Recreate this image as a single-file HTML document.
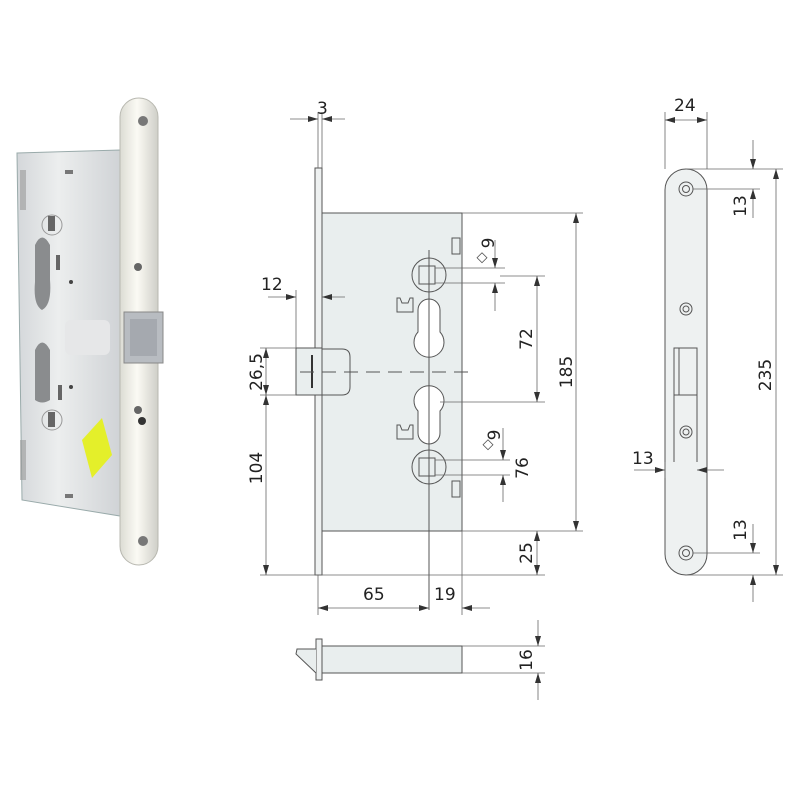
<!DOCTYPE html>
<html><head><meta charset="utf-8"><style>
html,body{margin:0;padding:0;background:#fff;width:800px;height:800px;overflow:hidden}
svg{display:block}
text{font-family:"DejaVu Sans","Liberation Sans",sans-serif;fill:#222;font-size:17px}
</style></head><body>
<svg width="800" height="800" viewBox="0 0 800 800" xmlns="http://www.w3.org/2000/svg">
<defs>
<marker id="a" viewBox="0 0 10 6" refX="10" refY="3" markerWidth="10" markerHeight="6" orient="auto-start-reverse" markerUnits="userSpaceOnUse"><path d="M0,0 L10,3 L0,6z" fill="#333"/></marker>
<linearGradient id="pg" x1="0" x2="1"><stop offset="0" stop-color="#d4d7da"/><stop offset=".4" stop-color="#eceeee"/><stop offset="1" stop-color="#d0d3d6"/></linearGradient>
<linearGradient id="fg" x1="0" x2="1"><stop offset="0" stop-color="#dcdcd4"/><stop offset=".45" stop-color="#fbfaf4"/><stop offset="1" stop-color="#cfcfc8"/></linearGradient>
</defs>

<!-- PHOTO -->
<g>
<path d="M17,153 L120,150 L120,516 L22,500 Z" fill="url(#pg)" stroke="#9aa"/>
<rect x="120" y="98" width="38" height="467" rx="19" fill="url(#fg)" stroke="#b8b8b0"/>
<circle cx="143" cy="121" r="5" fill="#777"/><circle cx="143" cy="541" r="5" fill="#777"/>
<circle cx="138" cy="267" r="4" fill="#666"/><circle cx="138" cy="410" r="4" fill="#666"/><circle cx="142" cy="421" r="4" fill="#333"/>
<circle cx="52" cy="225" r="10" fill="none" stroke="#999"/><rect x="48" y="216" width="7" height="15" fill="#666"/>
<circle cx="52" cy="420" r="10" fill="none" stroke="#999"/><rect x="48" y="412" width="7" height="15" fill="#666"/>
<path d="M35,245 Q42,230 50,245 L50,280 Q52,305 42,310 Q33,305 35,282 Z" fill="#8a8c8e"/>
<path d="M35,350 Q42,335 50,350 L50,400 Q42,405 35,400 Z" fill="#8a8c8e"/>
<rect x="56" y="255" width="4" height="15" fill="#666"/><rect x="58" y="385" width="4" height="15" fill="#666"/>
<circle cx="71" cy="282" r="2" fill="#444"/><circle cx="71" cy="387" r="2" fill="#444"/>
<rect x="65" y="320" width="45" height="35" rx="6" fill="#e6e7e8"/>
<rect x="20" y="170" width="6" height="40" fill="#999" opacity=".6"/><rect x="20" y="440" width="6" height="40" fill="#999" opacity=".6"/>
<rect x="65" y="170" width="8" height="4" fill="#777"/><rect x="65" y="494" width="8" height="4" fill="#777"/>
<rect x="124" y="312" width="39" height="51" fill="#b8bcc1" stroke="#888"/>
<rect x="130" y="319" width="27" height="37" fill="#a5a9af"/>
<path d="M82,440 L102,418 L112,455 L92,478 Z" fill="#e4ef2a"/>
</g>

<!-- MIDDLE DRAWING -->
<g stroke="#555" stroke-width="1" fill="none">
<rect x="322" y="213" width="140" height="318" fill="#e9eeee"/>
<rect x="315" y="168" width="7" height="407" fill="#eef1f1"/>
<rect x="296" y="348" width="26" height="47" fill="#e9eeee"/>
<path d="M322,349 L342,349 Q350,349 350,357 L350,387 Q350,395 342,395 L322,395"/>
<line x1="312" y1="355" x2="312" y2="388" stroke-width="2" stroke="#333"/>
<line x1="300" y1="372" x2="470" y2="372" stroke-dasharray="14,8"/>
<circle cx="429" cy="275" r="17"/><rect x="419" y="266" width="16" height="18"/>
<circle cx="429" cy="467" r="17"/><rect x="419" y="458" width="16" height="18"/>
<path d="M418,310 A11,11 0 0 1 440,310 L440,332 A15,15 0 1 1 418,332 Z" fill="#fff"/>
<path d="M418,433 A11,11 0 0 0 440,433 L440,411 A15,15 0 1 0 418,411 Z" fill="#fff"/>
<line x1="429" y1="250" x2="429" y2="610"/>
<path d="M397,298 h3 l2,5 h6 l2,-5 h3 v14 h-16z"/>
<path d="M397,425 h3 l2,5 h6 l2,-5 h3 v14 h-16z"/>
<rect x="452" y="238" width="8" height="16"/><rect x="452" y="481" width="8" height="16"/>
<g stroke="#666" stroke-width=".8">
<line x1="318" y1="112" x2="318" y2="168"/><line x1="322" y1="112" x2="322" y2="168"/>
<line x1="290" y1="119" x2="318" y2="119" marker-end="url(#a)"/><line x1="345" y1="119" x2="322" y2="119" marker-end="url(#a)"/>
<line x1="296" y1="290" x2="296" y2="348"/>
<line x1="268" y1="297" x2="296" y2="297" marker-end="url(#a)"/><line x1="345" y1="297" x2="322" y2="297" marker-end="url(#a)"/>
<line x1="462" y1="213" x2="583" y2="213"/><line x1="462" y1="531" x2="583" y2="531"/>
<line x1="576" y1="213" x2="576" y2="531" marker-start="url(#a)" marker-end="url(#a)"/>
<line x1="500" y1="276" x2="545" y2="276"/><line x1="440" y1="402" x2="545" y2="402"/><line x1="318" y1="575" x2="545" y2="575"/>
<line x1="537" y1="276" x2="537" y2="402" marker-start="url(#a)" marker-end="url(#a)"/>
<line x1="537" y1="531" x2="537" y2="575" marker-start="url(#a)" marker-end="url(#a)"/>
<line x1="260" y1="348" x2="296" y2="348"/><line x1="260" y1="395" x2="296" y2="395"/><line x1="260" y1="575" x2="318" y2="575"/>
<line x1="266" y1="348" x2="266" y2="395" marker-start="url(#a)" marker-end="url(#a)"/>
<line x1="266" y1="395" x2="266" y2="575" marker-start="url(#a)" marker-end="url(#a)"/>
<line x1="318" y1="575" x2="318" y2="615"/><line x1="462" y1="531" x2="462" y2="615"/>
<line x1="318" y1="608" x2="429" y2="608" marker-start="url(#a)" marker-end="url(#a)"/>
<line x1="490" y1="608" x2="462" y2="608" marker-end="url(#a)"/>
<line x1="435" y1="268" x2="505" y2="268"/><line x1="435" y1="283" x2="505" y2="283"/>
<line x1="495" y1="240" x2="495" y2="268" marker-end="url(#a)"/><line x1="495" y1="311" x2="495" y2="283" marker-end="url(#a)"/>
<line x1="435" y1="460" x2="510" y2="460"/><line x1="435" y1="475" x2="510" y2="475"/>
<line x1="503" y1="428" x2="503" y2="460" marker-end="url(#a)"/><line x1="503" y1="502" x2="503" y2="475" marker-end="url(#a)"/>
</g>
</g>
<text x="317" y="114">3</text>
<text x="261" y="290">12</text>
<text x="363" y="600">65</text>
<text x="434" y="600">19</text>
<text transform="translate(262,372) rotate(-90)" text-anchor="middle">26,5</text>
<text transform="translate(262,468) rotate(-90)" text-anchor="middle">104</text>
<text transform="translate(532,339) rotate(-90)" text-anchor="middle">72</text>
<text transform="translate(572,372) rotate(-90)" text-anchor="middle">185</text>
<text transform="translate(532,553) rotate(-90)" text-anchor="middle">25</text>
<text transform="translate(528,468) rotate(-90)" text-anchor="middle">76</text>
<text transform="translate(494,243) rotate(-90)" text-anchor="middle">9</text>
<text transform="translate(500,435) rotate(-90)" text-anchor="middle">9</text>
<g stroke="#555" fill="none" stroke-width=".8"><rect x="479" y="254" width="7" height="7" transform="rotate(45 482 257)"/><rect x="485" y="441" width="7" height="7" transform="rotate(45 488 444)"/></g>

<!-- BOTTOM LATCH -->
<g stroke="#555" fill="none" stroke-width="1">
<rect x="322" y="646" width="140" height="27" fill="#e9eeee"/>
<rect x="316" y="639" width="6" height="41" fill="#eef1f1"/>
<path d="M316,649 L297,649 L296,654 L316,673" fill="#e9eeee"/>
<g stroke="#666" stroke-width=".8">
<line x1="462" y1="646" x2="545" y2="646"/><line x1="462" y1="673" x2="545" y2="673"/>
<line x1="538" y1="620" x2="538" y2="646" marker-end="url(#a)"/><line x1="538" y1="700" x2="538" y2="673" marker-end="url(#a)"/>
</g>
</g>
<text transform="translate(532,660) rotate(-90)" text-anchor="middle">16</text>

<!-- RIGHT FACEPLATE -->
<g stroke="#555" fill="none" stroke-width="1">
<rect x="665" y="169" width="42" height="406" rx="21" fill="#eef1f1"/>
<g fill="#eef1f1"><circle cx="686" cy="189" r="7"/><circle cx="686" cy="189" r="3.5"/>
<circle cx="686" cy="309" r="6"/><circle cx="686" cy="309" r="3"/>
<circle cx="686" cy="432" r="6"/><circle cx="686" cy="432" r="3"/>
<circle cx="686" cy="553" r="7"/><circle cx="686" cy="553" r="3.5"/></g>
<rect x="674" y="348" width="23" height="47"/><rect x="674" y="348" width="5" height="47"/>
<line x1="674" y1="395" x2="674" y2="462"/><line x1="697" y1="395" x2="697" y2="462"/>
<g stroke="#666" stroke-width=".8">
<line x1="665" y1="112" x2="665" y2="169"/><line x1="707" y1="112" x2="707" y2="169"/>
<line x1="665" y1="120" x2="707" y2="120" marker-start="url(#a)" marker-end="url(#a)"/>
<line x1="686" y1="169" x2="783" y2="169"/><line x1="686" y1="575" x2="783" y2="575"/>
<line x1="776" y1="169" x2="776" y2="575" marker-start="url(#a)" marker-end="url(#a)"/>
<line x1="693" y1="189" x2="760" y2="189"/><line x1="693" y1="553" x2="760" y2="553"/>
<line x1="753" y1="140" x2="753" y2="169" marker-end="url(#a)"/><line x1="753" y1="218" x2="753" y2="189" marker-end="url(#a)"/>
<line x1="753" y1="524" x2="753" y2="553" marker-end="url(#a)"/><line x1="753" y1="602" x2="753" y2="575" marker-end="url(#a)"/>
<line x1="634" y1="470" x2="665" y2="470" marker-end="url(#a)"/><line x1="724" y1="470" x2="697" y2="470" marker-end="url(#a)"/>
<line x1="665" y1="462" x2="665" y2="478"/>
</g>
</g>
<text x="674" y="111">24</text>
<text x="632" y="464">13</text>
<text transform="translate(746,206) rotate(-90)" text-anchor="middle">13</text>
<text transform="translate(746,530) rotate(-90)" text-anchor="middle">13</text>
<text transform="translate(771,375) rotate(-90)" text-anchor="middle">235</text>
</svg>
</body></html>
